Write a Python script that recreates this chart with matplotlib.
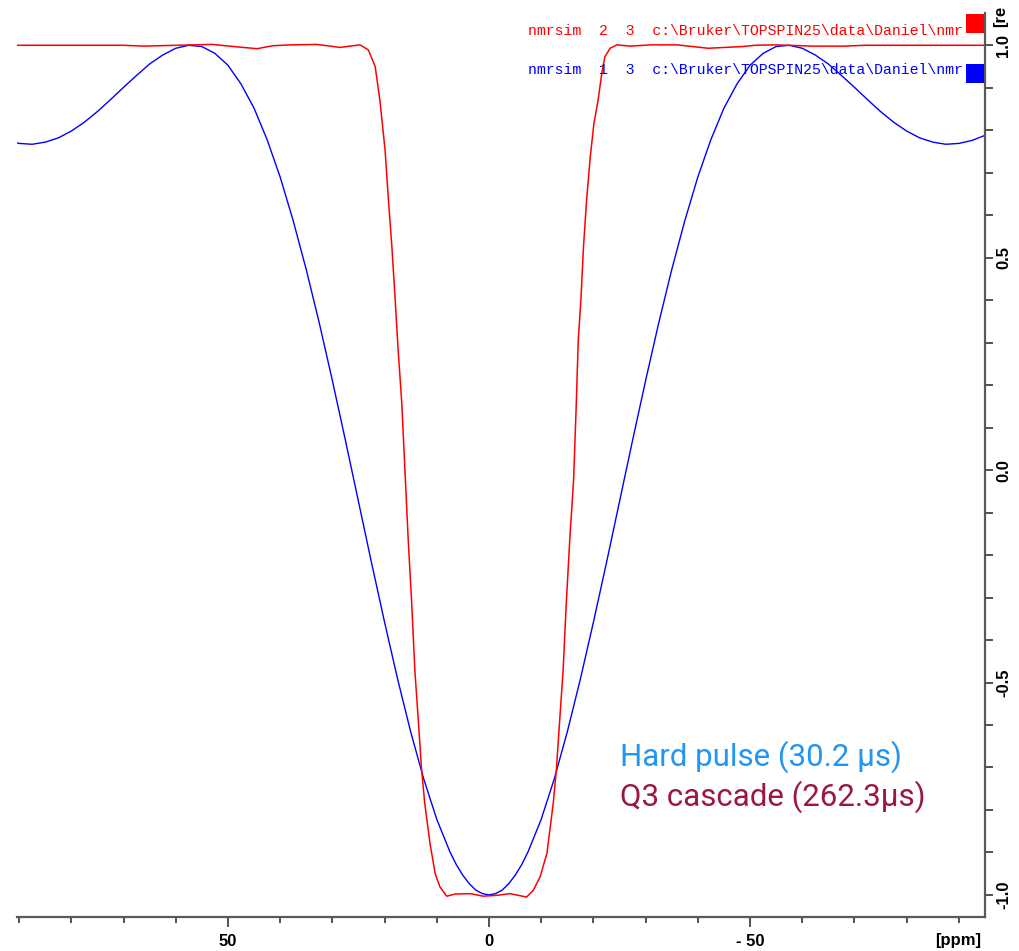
import numpy as np
import matplotlib
matplotlib.use("Agg")
import matplotlib.pyplot as plt

# inversion profiles (Mz, relative) against offset in ppm
hard_ppm = [95.0, 92.5, 90.0, 87.5, 85.0, 82.5, 80.0, 77.5, 75.0, 72.5, 70.0,
            67.5, 65.0, 62.5, 60.0, 57.5, 55.0, 52.5, 50.0, 47.5, 45.0, 42.5,
            40.0, 37.5, 35.0, 32.5, 30.0, 27.5, 25.0, 22.5, 20.0, 17.5, 15.0,
            12.5, 10.0, 7.5, 6.25, 5.0, 3.75, 2.5, 1.25, 0.0, -1.25, -2.5,
            -3.75, -5.0, -6.25, -7.5, -10.0, -12.5,
            -15.0, -17.5, -20.0, -22.5, -25.0, -27.5, -30.0, -32.5, -35.0,
            -37.5, -40.0, -42.5, -45.0, -47.5, -50.0, -52.5, -55.0, -57.5,
            -60.0, -62.5, -65.0, -67.5, -70.0, -72.5, -75.0, -77.5, -80.0,
            -82.5, -85.0, -87.5, -90.0, -92.5, -95.0]
hard_mz = [0.788, 0.776, 0.769, 0.767, 0.772, 0.782, 0.798, 0.819, 0.844,
           0.872, 0.901, 0.929, 0.956, 0.977, 0.993, 1.000, 0.997, 0.981,
           0.953, 0.909, 0.852, 0.778, 0.690, 0.587, 0.472, 0.346, 0.211,
           0.070, -0.074, -0.218, -0.358, -0.492, -0.616, -0.727, -0.822,
           -0.898, -0.929, -0.954, -0.974, -0.989, -0.997, -1.000, -0.997,
           -0.989, -0.974, -0.954, -0.929, -0.898, -0.822,
           -0.727, -0.616, -0.492, -0.358, -0.218, -0.074, 0.070, 0.211,
           0.346, 0.472, 0.587, 0.690, 0.778, 0.852, 0.909, 0.953, 0.981,
           0.997, 1.000, 0.993, 0.977, 0.956, 0.929, 0.901, 0.872, 0.844,
           0.819, 0.798, 0.782, 0.772, 0.767, 0.769, 0.776, 0.788]

q3_ppm = [91.0, 70.0, 66.0, 60.0, 53.0, 48.0, 44.4, 41.4, 38.0, 33.0, 28.5,
          26.0, 24.7, 23.1, 21.8, 20.9, 19.9, 19.3, 18.6, 18.0, 17.4, 16.7,
          16.1, 15.5, 14.8, 14.2, 13.5, 12.9, 12.3, 11.3, 10.3, 9.4, 8.1,
          6.5, 3.6, 1.1, -1.5, -4.0, -7.2, -8.5, -9.8, -11.1, -12.3, -12.9,
          -13.5, -14.2, -14.8, -15.5, -16.2, -16.7, -17.1, -17.6, -18.1,
          -18.7, -19.4, -20.1, -20.9, -21.6, -22.2, -23.2, -24.5, -27.0,
          -31.0, -36.0, -42.0, -48.5, -51.0, -55.0, -62.0, -68.0, -72.0,
          -96.0]
q3_mz = [1.000, 1.000, 0.998, 1.000, 1.002, 0.996, 0.992, 0.999, 1.001,
         1.002, 0.995, 0.999, 1.001, 0.989, 0.950, 0.871, 0.753, 0.643,
         0.526, 0.408, 0.283, 0.157, 0.000, -0.157, -0.314, -0.471, -0.596,
         -0.706, -0.785, -0.879, -0.950, -0.981, -1.003, -0.998, -0.997,
         -1.003, -1.001, -0.997, -1.005, -0.989, -0.957, -0.902, -0.785,
         -0.706, -0.596, -0.471, -0.314, -0.157, -0.024, 0.149, 0.306,
         0.400, 0.526, 0.636, 0.738, 0.816, 0.871, 0.934, 0.973, 0.993,
         1.001, 0.998, 1.001, 1.001, 0.993, 0.997, 1.000, 1.001, 0.998,
         0.998, 1.000, 1.000]

x_major = [50, 0, -50]
x_major_labels = ["50", "0", "- 50"]
y_major = [1.0, 0.5, 0.0, -0.5, -1.0]
y_major_labels = ["1.0", "0.5", "0.0", "-0.5", "-1.0"]

legend_q3 = "nmrsim  2  3  c:\\Bruker\\TOPSPIN25\\data\\Daniel\\nmr"
legend_hard = "nmrsim  1  3  c:\\Bruker\\TOPSPIN25\\data\\Daniel\\nmr"
label_hard = "Hard pulse (30.2 \u00b5s)"
label_q3 = "Q3 cascade (262.3\u00b5s)"

W, H = 1020, 951
fig = plt.figure(figsize=(W / 100, H / 100), dpi=100)
fig.patch.set_facecolor("white")
ax = fig.add_axes([17 / W, 1 - 917 / H, (985 - 17) / W, (917 - 13) / H])

ax.plot(hard_ppm, hard_mz, color="#0000ff", lw=1.0)
ax.plot(q3_ppm, q3_mz, color="#ff0000", lw=1.1)

ax.set_xlim(90.4, -95.0)
ax.set_ylim(-1.052, 1.076)

# TopSpin style frame: only bottom and right axes
for side in ["left", "top"]:
    ax.spines[side].set_visible(False)
for side in ["right", "bottom"]:
    ax.spines[side].set_color("#5a5a5a")
    ax.spines[side].set_linewidth(1.6)

ax.yaxis.tick_right()
ax.set_xticks(x_major)
ax.set_xticklabels(x_major_labels, fontsize=12, fontweight="bold",
                   family="Liberation Sans")
ax.set_xticks(np.arange(-90, 91, 10), minor=True)
ax.set_yticks(y_major)
ax.set_yticklabels(y_major_labels, fontsize=12, fontweight="bold",
                   family="Liberation Sans", rotation=90, va="center")
ax.set_yticks(np.arange(-1.0, 1.01, 0.1), minor=True)
ax.tick_params(axis="x", which="major", length=7.5, width=1.2,
               color="#333333", pad=5)
ax.tick_params(axis="x", which="minor", length=4.5, width=1.2,
               color="#333333")
ax.tick_params(axis="y", which="major", length=6, width=1.2,
               color="#333333", pad=2)
ax.tick_params(axis="y", which="minor", length=6, width=1.2,
               color="#333333")

# axis units (the intensity unit runs off the top edge)
fig.text(958 / W, 1 - 941 / H, "[ppm]", fontsize=12, fontweight="bold",
         family="Liberation Sans", ha="center", va="center")
fig.text(1001 / W, 1 - 27 / H, "[re", fontsize=12, fontweight="bold",
         family="Liberation Sans", rotation=90, ha="center", va="bottom")

# spectrum titles with colour swatches
fig.text(963 / W, 1 - 31 / H, legend_q3, color="#ff0000", fontsize=10.7,
         family="Liberation Mono", ha="right", va="center")
fig.text(963 / W, 1 - 70 / H, legend_hard, color="#0000ff", fontsize=10.7,
         family="Liberation Mono", ha="right", va="center")
fig.patches.append(plt.Rectangle((966 / W, 1 - 33 / H), 18 / W, 19 / H,
                                 transform=fig.transFigure,
                                 color="#ff0000", lw=0))
fig.patches.append(plt.Rectangle((966 / W, 1 - 83 / H), 18 / W, 19 / H,
                                 transform=fig.transFigure,
                                 color="#0000ff", lw=0))

# pulse annotations
fig.text(620 / W, 1 - 757 / H, label_hard, color="#2196f3", fontsize=22.5,
         family="Roboto", ha="left", va="center")
fig.text(620 / W, 1 - 797 / H, label_q3, color="#9b1646", fontsize=22.5,
         family="Roboto", ha="left", va="center")

fig.savefig("out.png", dpi=100, facecolor="white")
